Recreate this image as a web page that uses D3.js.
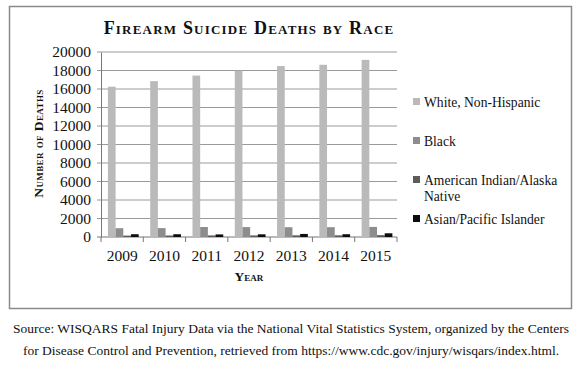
<!DOCTYPE html>
<html>
<head>
<meta charset="utf-8">
<script src="https://cdn.jsdelivr.net/npm/d3@7"></script>
<style>
  body { margin: 0; background: #fff; }
  #chart { width: 582px; height: 379px; }
  svg text, svg tspan { font-family: "Liberation Serif", serif; }
</style>
</head>
<body>
<div id="chart"></div>
<script>
// data
const years = ["2009", "2010", "2011", "2012", "2013", "2014", "2015"];
const seriesNames = ["White, Non-Hispanic", "Black", "American Indian/Alaska Native", "Asian/Pacific Islander"];
const white = [16250, 16850, 17450, 17980, 18480, 18620, 19150];
const black = [950, 960, 1080, 1070, 1060, 1060, 1090];
const aian = [150, 160, 170, 170, 180, 180, 200];
const asian = [300, 300, 280, 290, 330, 300, 400];
const yTicks = [0, 2000, 4000, 6000, 8000, 10000, 12000, 14000, 16000, 18000, 20000];
const colors = ["#bababa", "#8d8d8d", "#5c5c5c", "#0d0d0d"];

const allSeries = [white, black, aian, asian];
const serif = "Liberation Serif";

function barChart(params) {
  const width = 582;
  const height = 379;
  const marginLeft = 101;
  const marginTop = 52;
  const chartWidth = 296;
  const chartHeight = 185;

  const svg = d3.select(params.container)
    .append("svg")
    .attr("width", width)
    .attr("height", height)
    .attr("font-family", serif);

  // frame round the chart
  svg.append("rect")
    .attr("x", 9.5).attr("y", 6.5)
    .attr("width", 562).attr("height", 302)
    .attr("fill", "#fff")
    .attr("stroke", "#8a8a8a")
    .attr("stroke-width", 1.5);

  const g = svg.append("g")
    .attr("transform", `translate(${marginLeft}, ${marginTop})`);

  // scales
  const x0 = d3.scaleBand().domain(years).range([0, chartWidth]);
  const x1 = d3.scaleBand()
    .domain(d3.range(seriesNames.length))
    .range([0, x0.bandwidth()])
    .paddingOuter(0.75)
    .align(0.6);
  const yScale = d3.scaleLinear().domain([0, 20000]).range([chartHeight, 0]);

  // grid lines
  g.append("g")
    .selectAll("line")
    .data(yTicks)
    .join("line")
    .attr("x1", -4).attr("x2", chartWidth)
    .attr("y1", (d) => yScale(d)).attr("y2", (d) => yScale(d))
    .attr("stroke", (d) => d === 0 ? "#777" : "#9a9a9a")
    .attr("stroke-width", 1);

  // y axis
  const yAxis = d3.axisLeft(yScale).tickValues(yTicks).tickSize(0).tickPadding(10).tickFormat(d3.format("d"));
  const ya = g.append("g").call(yAxis).attr("font-family", serif);
  ya.select(".domain").attr("stroke", "#777");
  ya.selectAll("text").style("font-size", "15.5px").attr("fill", "#111");

  // x axis
  const xAxis = d3.axisBottom(x0).tickSize(0).tickPadding(13);
  const xa = g.append("g").attr("transform", `translate(0, ${chartHeight})`).call(xAxis).attr("font-family", serif);
  xa.select(".domain").remove();
  xa.selectAll("text").style("font-size", "15.5px").attr("fill", "#111");

  // tick marks between categories
  g.append("g")
    .selectAll("line")
    .data(d3.range(years.length + 1))
    .join("line")
    .attr("x1", (i) => i * x0.step()).attr("x2", (i) => i * x0.step())
    .attr("y1", chartHeight).attr("y2", chartHeight + 5)
    .attr("stroke", "#777");

  // bars
  g.append("g")
    .selectAll("g")
    .data(years)
    .join("g")
    .attr("transform", (d) => `translate(${x0(d)}, 0)`)
    .selectAll("rect")
    .data((d, i) => allSeries.map((s, k) => ({ k, v: s[i] })))
    .join("rect")
    .attr("x", (d) => x1(d.k))
    .attr("width", x1.bandwidth())
    .attr("y", (d) => yScale(d.v))
    .attr("height", (d) => yScale(0) - yScale(d.v))
    .attr("fill", (d) => colors[d.k]);

  // title
  svg.append("text")
    .attr("x", marginLeft + chartWidth / 2)
    .attr("y", 34)
    .attr("text-anchor", "middle")
    .attr("fill", "#111")
    .style("font-size", "18px")
    .style("letter-spacing", "1.2px")
    .style("font-weight", "bold")
    .style("font-variant", "small-caps")
    .text("Firearm Suicide Deaths by Race");

  // axis titles
  svg.append("text")
    .attr("x", marginLeft + chartWidth / 2)
    .attr("y", 281)
    .attr("text-anchor", "middle")
    .attr("fill", "#111")
    .style("font-size", "13.5px")
    .style("font-weight", "bold")
    .style("font-variant", "small-caps")
    .text("Year");

  svg.append("text")
    .attr("transform", `translate(43, ${marginTop + chartHeight / 2 - 1}) rotate(-90)`)
    .attr("text-anchor", "middle")
    .attr("fill", "#111")
    .style("font-size", "13.5px")
    .style("letter-spacing", "0.4px")
    .style("font-weight", "bold")
    .style("font-variant", "small-caps")
    .text("Number of Deaths");

  // legend
  const legendRows = [
    { k: 0, lines: ["White, Non-Hispanic"], y: 103 },
    { k: 1, lines: ["Black"], y: 142 },
    { k: 2, lines: ["American Indian/Alaska", "Native"], y: 181 },
    { k: 3, lines: ["Asian/Pacific Islander"], y: 220 }
  ];
  const legend = svg.append("g").attr("transform", "translate(413, 0)");
  const item = legend.selectAll("g").data(legendRows).join("g")
    .attr("transform", (d) => `translate(0, ${d.y})`);
  item.append("rect")
    .attr("x", 0).attr("y", -5)
    .attr("width", 7).attr("height", 7)
    .attr("fill", (d) => colors[d.k]);
  item.append("text")
    .attr("x", 11)
    .attr("y", 4)
    .attr("fill", "#111")
    .style("font-size", "13.6px")
    .selectAll("tspan")
    .data((d) => d.lines)
    .join("tspan")
    .attr("x", 11)
    .attr("dy", (d, i) => i === 0 ? 0 : 16)
    .text((d) => d);

  // source note
  const note = svg.append("text")
    .attr("text-anchor", "middle")
    .attr("fill", "#111")
    .style("font-size", "13.5px");
  note.append("tspan").attr("x", 291).attr("y", 333)
    .text("Source: WISQARS Fatal Injury Data via the National Vital Statistics System, organized by the Centers");
  note.append("tspan").attr("x", 291).attr("y", 355)
    .text("for Disease Control and Prevention, retrieved from https://www.cdc.gov/injury/wisqars/index.html.");
}

barChart({ container: "#chart" });
</script>
</body>
</html>
